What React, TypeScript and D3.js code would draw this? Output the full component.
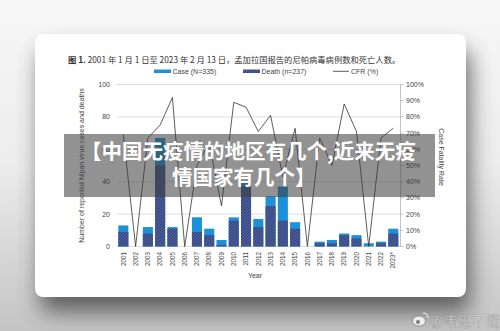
import React from "react";
import * as d3 from "d3";

const years = ["2001","2002","2003","2004","2005","2006","2007","2008","2009","2010","2011","2012","2013","2014","2015","2016","2017","2018","2019","2020","2021","2022","2023*"];
const cases = [13,0,12,67,12,0,18,11,4,18,40,17,31,37,15,0,3,4,8,7,2,3,11];
const deaths = [9,0,8,50,11,0,9,7,1,16,37,12,25,16,11,0,2,2,7,5,0,2,8];
const cfr = [69,0,67,75,92,0,50,64,25,89,86,71,81,43,73,0,67,50,88,71,0,67,73];
const leftTicks = [0,20,40,60,80,100];
const rightTicks = [0,10,20,30,40,50,60,70,80,90,100];

const W = 500, H = 331;
const FONT = "Liberation Sans, Arial, sans-serif";
const CJK = "'Noto Sans CJK SC', sans-serif";

export default function App() {
  const x = d3.scaleBand<string>().domain(years).range([117.2, 399.4]).paddingInner(0.18).paddingOuter(0.09);
  const y = d3.scaleLinear().domain([0, 100]).range([246.5, 84.5]);
  const line = d3.line<number>().x((_, i) => (x(years[i]) as number) + x.bandwidth() / 2).y(d => y(d));
  const caseColor = "#1b91d8";

  return (
    <svg width={W} height={H} style={{ position: "absolute", left: 0, top: 0 }} xmlns="http://www.w3.org/2000/svg">
      <defs>
        <linearGradient id="bg" x1="0" y1="0" x2="0" y2="1">
          <stop offset="0" stopColor="#f7f7f7" />
          <stop offset="0.5" stopColor="#ececec" />
          <stop offset="1" stopColor="#c4c4c4" />
        </linearGradient>
        <filter id="shadow" x="-30%" y="-30%" width="160%" height="160%">
          <feGaussianBlur stdDeviation="11" />
        </filter>
        <pattern id="hatch" width="3" height="3" patternUnits="userSpaceOnUse">
          <rect width="3" height="3" fill="#394b86" />
          <path d="M0,3 L3,0" stroke="#5a6ba3" strokeWidth="0.8" />
        </pattern>
      </defs>
      <rect width={W} height={H} fill="url(#bg)" />
      <rect x={40} y={50} width={430} height={262} rx={10} fill="#3a3a3a" opacity={0.75} filter="url(#shadow)" />
      <rect x={35} y={34} width={431} height={263} rx={8} fill="#ffffff" />

      {/* title */}
      <text x={68} y={63} fontFamily={CJK} fontSize={8.3} fill="#333">
        <tspan fontWeight="bold">图 1.</tspan>
        <tspan> 2001 年 1 月 1 日至 2023 年 2 月 13 日，孟加拉国报告的尼帕病毒病例数和死亡人数。</tspan>
      </text>

      {/* legend */}
      <rect x={154} y={69.5} width={17} height={3.5} fill={caseColor} />
      <text x={172.5} y={74} fontFamily={FONT} fontSize={7} fill="#444">Case (N=335)</text>
      <rect x={243} y={69.5} width={17} height={3.5} fill="url(#hatch)" />
      <text x={261.5} y={74} fontFamily={FONT} fontSize={7} fill="#444">Death (n=237)</text>
      <line x1={333} x2={349} y1={71.3} y2={71.3} stroke="#333" strokeWidth={0.8} />
      <text x={351} y={74} fontFamily={FONT} fontSize={7} fill="#444">CFR (%)</text>

      {/* gridlines */}
      {leftTicks.map(t => (
        <line key={"g" + t} x1={117} x2={400.5} y1={y(t)} y2={y(t)} stroke="#d6d6d6" strokeWidth={0.8} />
      ))}
      {leftTicks.map(t => (
        <text key={"l" + t} x={110} y={y(t) + 2.4} textAnchor="end" fontFamily={FONT} fontSize={7} fill="#444">{t}</text>
      ))}

      {/* right axis */}
      <line x1={400.5} x2={400.5} y1={y(0)} y2={y(100)} stroke="#aaa" strokeWidth={0.7} />
      {rightTicks.map(t => (
        <g key={"r" + t}>
          <line x1={400.5} x2={403.5} y1={y(t)} y2={y(t)} stroke="#aaa" strokeWidth={0.7} />
          <text x={406} y={y(t) + 2.4} fontFamily={FONT} fontSize={7} fill="#444">{t}%</text>
        </g>
      ))}

      {/* bars */}
      {years.map((yr, i) => (
        <g key={"b" + yr}>
          {cases[i] > 0 && (
            <rect x={x(yr)} y={y(cases[i])} width={x.bandwidth()} height={y(0) - y(cases[i])} fill={caseColor} />
          )}
          {deaths[i] > 0 && (
            <rect x={x(yr)} y={y(deaths[i])} width={x.bandwidth()} height={y(0) - y(deaths[i])} fill="url(#hatch)" />
          )}
        </g>
      ))}

      {/* CFR line */}
      <path d={line(cfr) || ""} fill="none" stroke="#333" strokeWidth={0.8} />

      {/* x labels */}
      {years.map(yr => (
        <text key={"x" + yr} transform={`translate(${(x(yr) as number) + x.bandwidth() / 2 + 2.2},252) rotate(-90)`} textAnchor="end" fontFamily={FONT} fontSize={6.3} fill="#444">{yr}</text>
      ))}
      <text x={255} y={278} textAnchor="middle" fontFamily={FONT} fontSize={7} fill="#444">Year</text>

      {/* axis titles */}
      <text transform="translate(84,165.5) rotate(-90)" textAnchor="middle" fontFamily={FONT} fontSize={7} fill="#444">Number of reported Nipah virus cases and deaths</text>
      <text transform="translate(439,157) rotate(90)" textAnchor="middle" fontFamily={FONT} fontSize={7} fill="#444">Case Fatality Rate</text>

      {/* banner overlay */}
      <rect x={64} y={134} width={371} height={63} fill="rgb(60,60,60)" opacity={0.56} />
      <text x={81} y={159} fontFamily={CJK} fontWeight="bold" fontSize={20.5} fill="#ffffff">【中国无疫情的地区有几个,近来无疫</text>
      <text x={172} y={185} fontFamily={CJK} fontWeight="bold" fontSize={20.5} fill="#ffffff">情国家有几个】</text>

      {/* watermark */}
      <g opacity={0.9}>
        <ellipse cx={419} cy={321} rx={6.5} ry={5} fill="#f2f2f2" stroke="#777" strokeWidth={0.7} />
        <circle cx={418} cy={322} r={2} fill="#777" />
        <path d="M423,313 Q428,313 428,318" fill="none" stroke="#eee" strokeWidth={1.2} />
        <text x={431} y={326} fontFamily={CJK} fontSize={14} fill="#f0f0f0" stroke="#888" strokeWidth={0.4}>@韦恩不闹</text>
      </g>
    </svg>
  );
}
